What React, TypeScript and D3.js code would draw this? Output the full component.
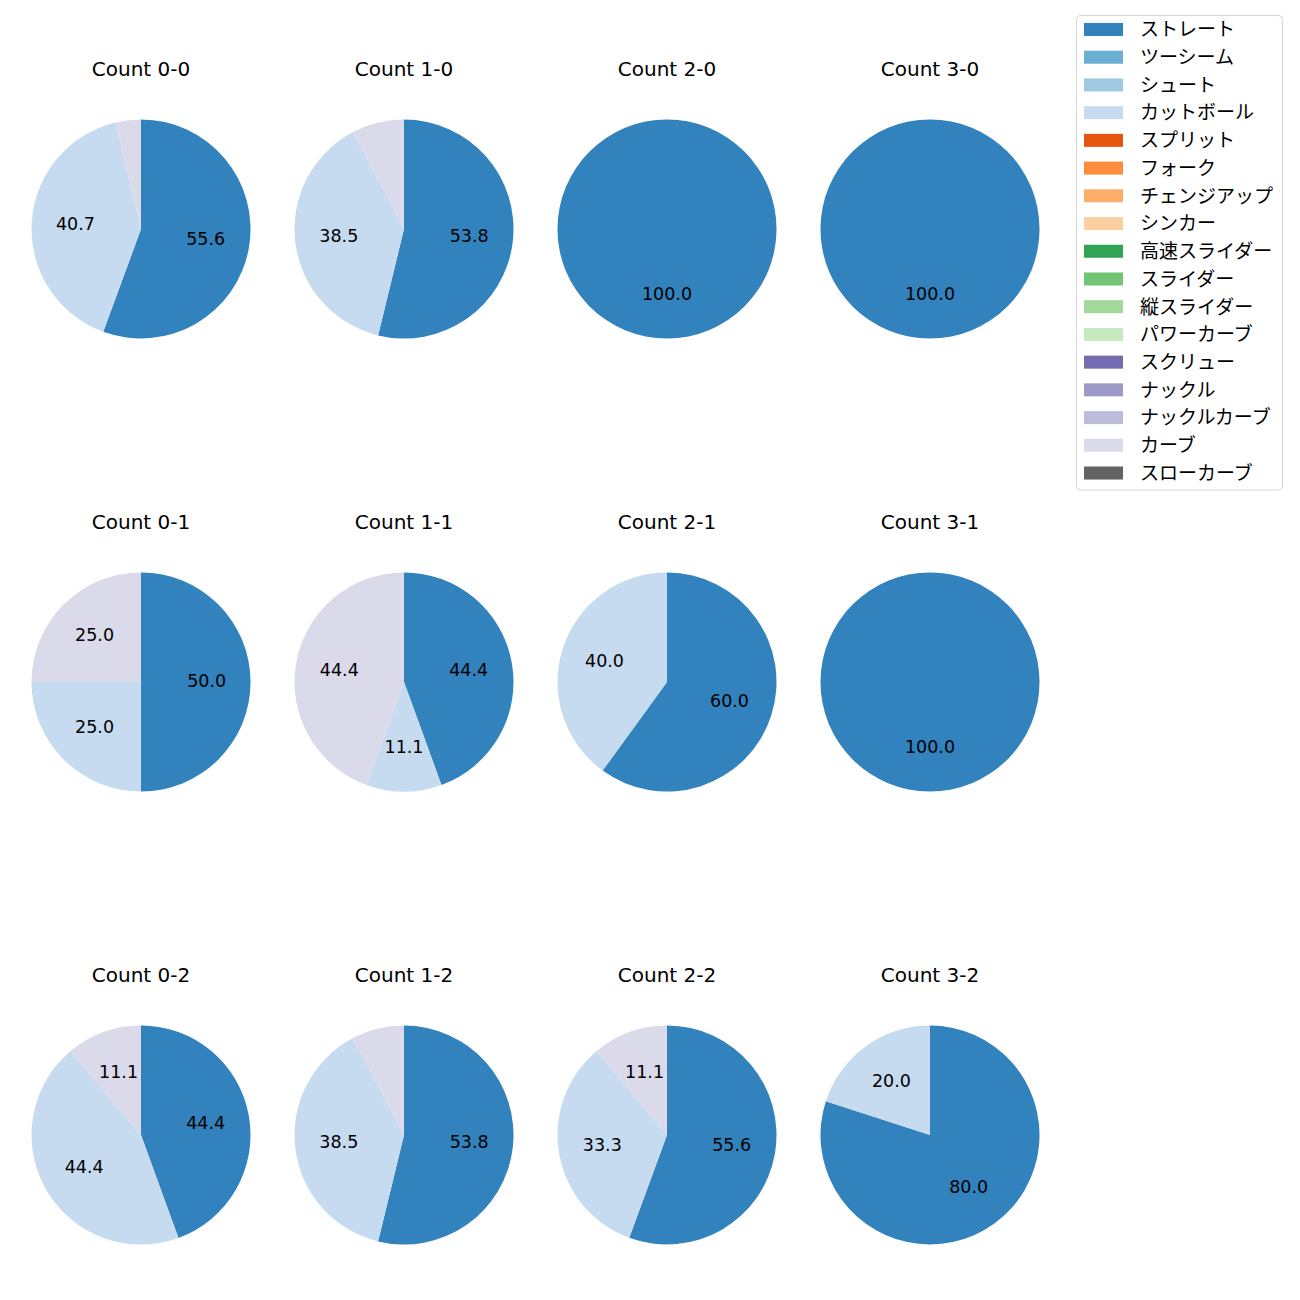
import React from "react";
import * as d3 from "d3";

const pitchTypes = [
  "ストレート", "ツーシーム", "シュート", "カットボール", "スプリット", "フォーク",
  "チェンジアップ", "シンカー", "高速スライダー", "スライダー", "縦スライダー",
  "パワーカーブ", "スクリュー", "ナックル", "ナックルカーブ", "カーブ", "スローカーブ",
];
const pitchColors = [
  "#3182bd", "#6baed6", "#9ecae1", "#c6dbef", "#e6550d", "#fd8d3c",
  "#fdae6b", "#fdd0a2", "#31a354", "#74c476", "#a1d99b",
  "#c7e9c0", "#756bb1", "#9e9ac8", "#bcbddc", "#dadaeb", "#636363",
];

// counts in grid order: rows = strikes, columns = balls
const countLabels = [
  "0-0", "1-0", "2-0", "3-0",
  "0-1", "1-1", "2-1", "3-1",
  "0-2", "1-2", "2-2", "3-2",
];
// percentages per count
const straightPct = [55.6, 53.8, 100, 100, 50, 44.4, 60, 100, 44.4, 53.8, 55.6, 80];
const cutterPct = [40.7, 38.5, 0, 0, 25, 11.1, 40, 0, 44.4, 38.5, 33.3, 20];
const curvePct = [3.7, 7.7, 0, 0, 25, 44.4, 0, 0, 11.1, 7.7, 11.1, 0];

const W = 1300;
const H = 1300;
const R = 109.5;
const colX = d3.scaleLinear().domain([0, 3]).range([141, 930]);
const rowY = d3.scaleLinear().domain([0, 2]).range([229, 1135]);

const colorOf = d3.scaleOrdinal<string, string>().domain(pitchTypes).range(pitchColors);

const numFont = "'DejaVu Sans', 'Noto Sans CJK JP', sans-serif";
const jpFont = "'Noto Sans CJK JP', 'DejaVu Sans', sans-serif";

type Slice = { name: string; value: number };

export default function App() {
  const pie = d3.pie<Slice>().sort(null).value((d) => d.value).startAngle(0).endAngle(2 * Math.PI);
  const arc = d3.arc<d3.PieArcDatum<Slice>>().innerRadius(0).outerRadius(R);
  const labelArc = d3.arc<d3.PieArcDatum<Slice>>().innerRadius(R * 0.6).outerRadius(R * 0.6);

  const legendX = 1076.5;
  const legendY = 15.5;
  const rowPitch = 27.72;

  return (
    <svg width={W} height={H} style={{ position: "absolute", left: 0, top: 0, background: "#fff" }}>
      <rect x={0} y={0} width={W} height={H} fill="#fff" />
      {countLabels.map((c, i) => {
        const col = i % 4;
        const row = Math.floor(i / 4);
        const cx = colX(col);
        const cy = rowY(row);
        const slices: Slice[] = [
          { name: "ストレート", value: straightPct[i] },
          { name: "カットボール", value: cutterPct[i] },
          { name: "カーブ", value: curvePct[i] },
        ].filter((s) => s.value > 0);
        const total = d3.sum(slices, (s) => s.value);
        const arcs = pie(slices);
        return (
          <g key={c}>
            <text
              x={cx}
              y={cy - 153}
              textAnchor="middle"
              fontFamily={numFont}
              fontSize={20}
              fill="#000"
            >
              {`Count ${c}`}
            </text>
            <g transform={`translate(${cx},${cy})`}>
              {arcs.map((a) => (
                <path key={a.data.name} d={arc(a) || ""} fill={colorOf(a.data.name)} />
              ))}
              {arcs.map((a) => {
                const pct = (a.data.value / total) * 100;
                if (pct < 10) return null;
                const [lx, ly] = labelArc.centroid(a);
                return (
                  <text
                    key={"l" + a.data.name}
                    x={lx}
                    y={ly + 5}
                    textAnchor="middle"
                    fontFamily={numFont}
                    fontSize={17.5}
                    fill="#000"
                  >
                    {pct.toFixed(1)}
                  </text>
                );
              })}
            </g>
          </g>
        );
      })}
      <g>
        <rect
          x={legendX}
          y={legendY}
          width={206}
          height={474.5}
          rx={4}
          ry={4}
          fill="#fff"
          stroke="#d5d5d5"
          strokeWidth={1}
        />
        {pitchTypes.map((p, i) => {
          const yc = 29.5 + i * rowPitch;
          return (
            <g key={p}>
              <rect x={1084} y={yc - 6.5} width={39} height={13} fill={colorOf(p)} />
              <text x={1140} y={yc + 6.8} fontFamily={jpFont} fontSize={19} fill="#000">
                {p}
              </text>
            </g>
          );
        })}
      </g>
    </svg>
  );
}
